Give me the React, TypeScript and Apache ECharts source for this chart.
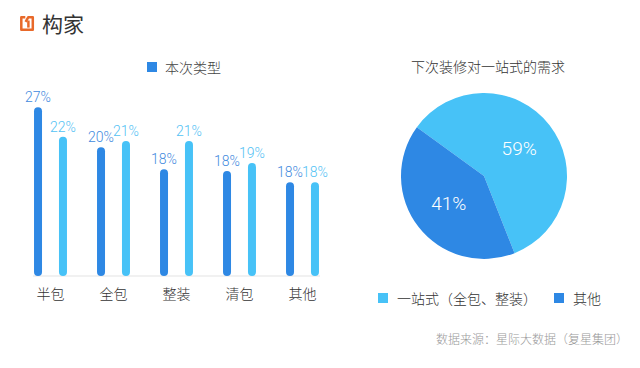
import React, { useEffect, useRef } from "react";
import * as echarts from "echarts";

const categories = ["半包", "全包", "整装", "清包", "其他"];
// bar values (percent)
const thisTimeValues = [27.0, 20.6, 17.1, 16.8, 15.0];
const nextTimeValues = [22.3, 21.6, 21.6, 18.1, 15.0];
// labels as printed above the bars
const thisTimeLabels = ["27%", "20%", "18%", "18%", "18%"];
const nextTimeLabels = ["22%", "21%", "21%", "19%", "18%"];

const pieNames = ["一站式（全包、整装）", "其他"];
const pieValues = [59, 41];

const DARK = "#2e88e4";
const LIGHT = "#47c2f7";
const FONT = "'Noto Sans CJK SC', 'Noto Sans', sans-serif";
const NUMFONT = "Roboto, 'Liberation Sans', sans-serif";
const ORANGE = "#e8692a";

export default function App() {
  const ref = useRef<HTMLDivElement>(null);
  useEffect(() => {
    document.body.style.margin = "0";
    if (!ref.current) return;
    const chart = echarts.init(ref.current, null, { renderer: "svg" });
    chart.setOption({
      animation: false,
      backgroundColor: "#ffffff",
      textStyle: { fontFamily: FONT },
      title: [
        {
          text: "下次装修对一站式的需求",
          left: 483,
          textAlign: "center",
          top: 54,
          textStyle: { fontSize: 14, fontWeight: 300, color: "#333", fontFamily: FONT },
        },
      ],
      legend: [
        {
          data: [{ name: "本次类型", itemStyle: { color: DARK } }],
          left: 142,
          top: 55,
          itemWidth: 10,
          itemHeight: 10,
          icon: "rect",
          textStyle: { fontSize: 14, fontWeight: 300, color: "#444", fontFamily: FONT, padding: [0, 0, 0, 3] },
        },
        {
          data: pieNames,
          left: 373,
          top: 286,
          itemWidth: 10,
          itemHeight: 10,
          itemGap: 17,
          icon: "rect",
          textStyle: { fontSize: 14, fontWeight: 300, color: "#333", fontFamily: FONT, padding: [0, 0, 0, 4] },
        },
      ],
      grid: { left: 19, right: 306, top: 101, bottom: 92 },
      xAxis: {
        type: "category",
        data: categories,
        axisLine: { show: false },
        axisTick: { show: false },
        axisLabel: { fontSize: 14, fontWeight: 300, color: "#333", margin: 10, fontFamily: FONT },
      },
      yAxis: {
        type: "value",
        min: 0,
        max: 28,
        show: false,
        splitLine: { show: false },
      },
      series: [
        {
          name: "本次类型",
          type: "bar",
          data: thisTimeValues,
          barWidth: 8,
          barGap: "212%",
          itemStyle: { color: DARK, borderRadius: 4 },
          label: {
            show: true,
            position: "top",
            distance: 3,
            fontSize: 14,
            fontWeight: 300,
            color: "#3f8ade",
            fontFamily: NUMFONT,
            formatter: (p: any) => thisTimeLabels[p.dataIndex],
          },
        },
        {
          name: "下次类型",
          type: "bar",
          data: nextTimeValues,
          barWidth: 8,
          itemStyle: { color: LIGHT, borderRadius: 4 },
          label: {
            show: true,
            position: "top",
            distance: 3,
            fontSize: 14,
            fontWeight: 300,
            color: "#52c2f4",
            fontFamily: NUMFONT,
            formatter: (p: any) => nextTimeLabels[p.dataIndex],
          },
        },
        {
          name: "需求",
          type: "pie",
          center: [484, 176],
          radius: 83,
          startAngle: 144,
          clockwise: true,
          color: [LIGHT, DARK],
          data: pieNames.map((n, i) => ({ name: n, value: pieValues[i] })),
          label: {
            show: true,
            position: "inside",
            formatter: "{d}%",
            fontSize: 19,
            fontWeight: 300,
            color: "#ffffff",
            fontFamily: NUMFONT,
          },
          labelLine: { show: false },
          itemStyle: { borderWidth: 0 },
        },
      ],
      graphic: [
        {
          type: "line",
          shape: { x1: 33, y1: 276, x2: 320, y2: 276 },
          style: { stroke: "#e3e3e3", lineWidth: 1 },
          z: 0,
        },
        {
          type: "polyline",
          shape: {
            points: [
              [25.3, 17.3],
              [21.3, 17.3],
              [21.3, 29.8],
              [32.8, 29.8],
              [32.8, 17.3],
              [28.2, 17.3],
              [25.6, 21.8],
            ],
          },
          style: { stroke: ORANGE, lineWidth: 2.5, fill: "transparent", lineJoin: "round" },
        },
        {
          type: "line",
          shape: { x1: 28.4, y1: 20.5, x2: 28.4, y2: 27.6 },
          style: { stroke: ORANGE, lineWidth: 2.5 },
        },
        {
          type: "text",
          left: 42,
          top: 12,
          style: { text: "构家", fontSize: 21, fill: "#333", fontFamily: FONT },
        },
        {
          type: "text",
          right: 12,
          top: 332,
          style: {
            text: "数据来源：星际大数据（复星集团）",
            fontSize: 12,
            fill: "#999",
            fontFamily: FONT,
            fontWeight: 300,
          },
        },
      ],
    });
    return () => chart.dispose();
  }, []);
  return (
    <div
      ref={ref}
      style={{ width: 640, height: 368, position: "fixed", left: 0, top: 0 }}
    />
  );
}
